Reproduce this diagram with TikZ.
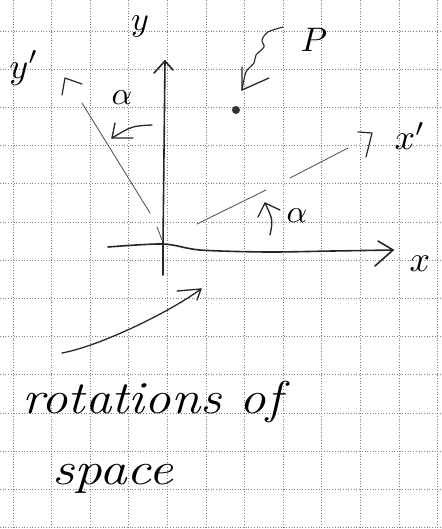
\documentclass[tikz,border=0pt]{standalone}
\usetikzlibrary{arrows.meta}
\newcommand{\biglbl}[2]{\scalebox{#1}{$#2$}}
\begin{document}
\begin{tikzpicture}[x=1pt,y=-1pt,
  ink/.style={line width=1.6pt, line cap=round, line join=round, black!85},
  thinink/.style={line width=0.9pt, line cap=round, black!65},
  gridline/.style={black!50, line width=0.7pt, dotted},
  lbl/.style={inner sep=0pt},
  word/.style={inner sep=0pt, anchor=base west, font=\fontsize{46}{50}\selectfont\itshape}]
\fill[white] (0,0) rectangle (441,529);
\useasboundingbox (0,0) rectangle (441,529);
% graph paper
\foreach \i in {0,...,11} \draw[gridline] ({13+38.6*\i},0) -- ({13+38.6*\i},529);
\foreach \j in {0,...,13} \draw[gridline] (0,{31+38.2*\j}) -- (441,{31+38.2*\j});
% y axis
\coordinate (O) at (163,245);
\coordinate (ybot) at (163,275);
\coordinate (ytip) at (165,61);
\draw[ink] (ybot) -- (O) -- (ytip);
\draw[ink] (154,73) -- (ytip) -- (173,70);
% x axis
\coordinate (xstart) at (108,247);
\coordinate (xtip) at (393,250);
\draw[ink] plot[smooth] coordinates {(108,247) (163,244) (200,250) (267,252) (333,251) (393,250)};
\draw[ink] (378,241) -- (xtip) -- (375,266);
% rotated y' axis
\coordinate (ypA) at (82,103);
\coordinate (ypB) at (150,213);
\coordinate (ypC) at (157,227);
\coordinate (ypD) at (162,240);
\coordinate (yptip) at (65,78);
\draw[thinink] (ypB) -- (ypA);
\draw[thinink] (ypC) -- (ypD);
\draw[ink, line width=1.2pt] (62,95) -- (yptip) -- (82,84);
% rotated x' axis
\coordinate (xpA) at (197,224);
\coordinate (xpB) at (266,190);
\coordinate (xpC) at (290,178);
\coordinate (xpD) at (348,148);
\coordinate (xptip) at (372,133);
\draw[thinink] (xpA) -- (xpB);
\draw[thinink] (xpC) -- (xpD);
\draw[ink, line width=1.2pt] (358,132) -- (xptip) -- (366,157);
% alpha arrows
\coordinate (a1s) at (152,125);
\coordinate (a1t) at (112,138);
\draw[ink, line width=1.3pt] (a1s) .. controls (132,126) .. (a1t);
\draw[ink, line width=1.3pt] (115,123) -- (a1t) -- (133,138);
\coordinate (a2s) at (270,235);
\coordinate (a2t) at (265,203);
\draw[ink, line width=1.3pt] (a2s) .. controls (273,220) .. (a2t);
\draw[ink, line width=1.3pt] (258,217) -- (a2t) -- (280,210);
% point P
\node[circle, fill=black!80, inner sep=0pt, minimum size=8pt] (Pdot) at (236,110) {};
\coordinate (Ps) at (283,27);
\coordinate (Pt) at (242,90);
\draw[ink, line width=1.1pt] plot[smooth] coordinates {(283,27) (268,32) (262,40) (264,47) (256,55) (254,63) (246,72) (242,90)};
\draw[ink, line width=1.3pt] (242,67) -- (Pt) -- (269,78);
% bottom arrow
\coordinate (bs) at (62,353);
\coordinate (bt) at (201,289);
\draw[ink, line width=1.3pt] (bs) .. controls (100,346) and (170,312) .. (bt);
\draw[ink, line width=1.3pt] (177,291) -- (bt) -- (197,300);
% labels
\node[lbl] (ylab) at (140,26) {\biglbl{3.4}{y}};
\node[lbl] (yplab) at (24,68) {\biglbl{3.6}{y'}};
\node[lbl] (xlab) at (420,264) {\biglbl{3.6}{x}};
\node[lbl] (xplab) at (410,136) {\biglbl{3.6}{x'}};
\node[lbl] (Plab) at (314,40) {\biglbl{3.4}{P}};
\node[lbl] (al1) at (122,98) {\biglbl{3.2}{\alpha}};
\node[lbl] (al2) at (297,216) {\biglbl{3.2}{\alpha}};
\node[word] (w1) at (22,413) {\scalebox{1.15}[1]{rotations of}};
\node[word] (w2) at (52,484) {\scalebox{1.2}[1]{space}};
\end{tikzpicture}
\end{document}
